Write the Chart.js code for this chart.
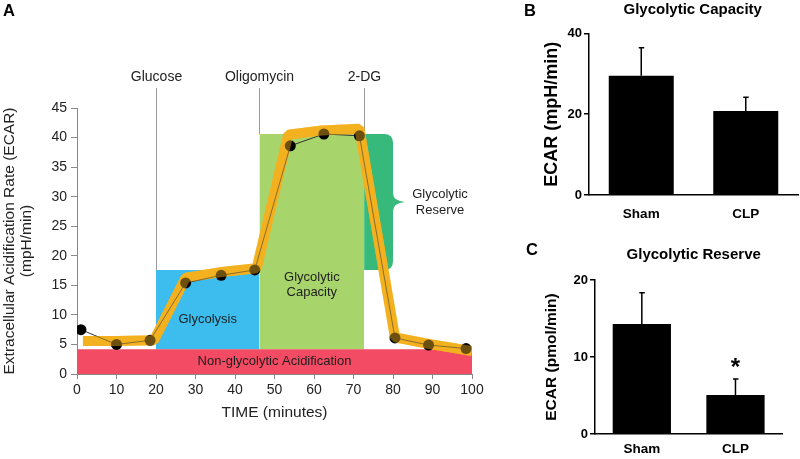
<!DOCTYPE html>
<html><head><meta charset="utf-8">
<script src="https://cdn.jsdelivr.net/npm/chart.js@4.4.1/dist/chart.umd.min.js"></script>
<style>
html,body{margin:0;padding:0;background:#fff;width:800px;height:459px;overflow:hidden;font-family:"Liberation Sans",Arial,sans-serif;}
.wrap{position:absolute;}
.lbl{position:absolute;font-weight:bold;font-size:16.5px;line-height:16px;color:#000;}
</style></head><body>
<div class="wrap" style="left:0;top:0;width:520px;height:459px"><canvas id="cA"></canvas></div>
<div class="wrap" style="left:520px;top:0;width:280px;height:229px"><canvas id="cB"></canvas></div>
<div class="wrap" style="left:520px;top:229px;width:280px;height:230px"><canvas id="cC"></canvas></div>
<div class="lbl" style="left:3px;top:1.5px">A</div>
<div class="lbl" style="left:524px;top:1.5px">B</div>
<div class="lbl" style="left:526px;top:241px">C</div>
<script>
// ---------- Panel A data ----------
const timeMin = [1, 10, 18.5, 27.5, 36.5, 45, 54, 62.5, 71.5, 80.5, 89, 98.5];
const ecar    = [7.5, 5.0, 5.7, 15.4, 16.7, 17.6, 38.6, 40.6, 40.3, 6.1, 4.9, 4.3];
const highlightTime = [1.5, 10, 19.5, 27.5, 36, 45.5, 53.5, 62, 71.5, 80.5, 89, 100];
const highlightEcar = [5.6, 5.6, 5.7, 16.3, 17.2, 17.9, 40.5, 41.2, 41.5, 6.2, 5.1, 3.9];
const injectionNames = ['Glucose', 'Oligomycin', '2-DG'];
const injectionTime  = [20, 46.2, 72.7];
const regionNames = ['Non-glycolytic Acidification', 'Glycolysis', 'Glycolytic Capacity', 'Glycolytic Reserve'];
const regionStart = [0, 20, 46.2, 72.7];
const regionEnd   = [100, 46.2, 72.7, 80];
const regionLow   = [0, 4.2, 4.2, 17.6];
const regionHigh  = [4.2, 17.6, 40.6, 40.6];
const xTitleA = 'TIME (minutes)';
const yTitleA = ['Extracellular Acidification Rate (ECAR)', '(mpH/min)'];

// ---------- Panels B / C data ----------
const groups = ['Sham', 'CLP'];
const capacityMean = [29.5, 20.8];
const capacityErr  = [6.9, 3.4];
const reserveMean  = [14.3, 5.05];
const reserveErr   = [4.05, 2.1];
const reserveSignif = ['', '*'];

const FONT = '"Liberation Sans", Arial, sans-serif';
Chart.defaults.font.family = FONT;
Chart.defaults.animation = false;
Chart.defaults.events = [];
Chart.defaults.plugins.legend.display = false;
Chart.defaults.plugins.tooltip.enabled = false;

const regionColors = ['#F24B63', '#3CBDEE', '#A8D46C', '#36B97A'];
const orange = 'rgb(245,177,32)';

function boxDataset(i) {
  return {
    type: 'line',
    data: [{x: regionStart[i], y: regionHigh[i]}, {x: regionEnd[i], y: regionHigh[i]}],
    fill: {value: regionLow[i]},
    backgroundColor: regionColors[i],
    borderColor: 'rgba(0,0,0,0)',
    borderWidth: 0,
    pointRadius: 0,
    order: 10
  };
}
const pts = (xs, ys) => xs.map((x, i) => ({x, y: ys[i]}));

const panelAPlugin = {
  id: 'panelA',
  beforeDatasetsDraw(chart) {
    const {ctx, scales: {x, y}, chartArea} = chart;
    ctx.save();
    ctx.strokeStyle = '#9a9a9a';
    ctx.lineWidth = 1;
    ctx.fillStyle = '#222';
    ctx.font = '14px ' + FONT;
    ctx.textAlign = 'center';
    ctx.textBaseline = 'middle';
    injectionTime.forEach((t, i) => {
      const px = Math.round(x.getPixelForValue(t)) + 0.5;
      ctx.beginPath();
      ctx.moveTo(px, chartArea.top - 20);
      ctx.lineTo(px, y.getPixelForValue(regionHigh[i + 1]));
      ctx.stroke();
      ctx.fillText(injectionNames[i], px, chartArea.top - 31);
    });
    const x0 = x.getPixelForValue(regionStart[3]), x1 = x.getPixelForValue(regionEnd[3]);
    const y0 = y.getPixelForValue(regionHigh[3]), y1 = y.getPixelForValue(regionLow[3]);
    const ym = (y0 + y1) / 2, r = 9;
    ctx.fillStyle = regionColors[3];
    ctx.beginPath();
    ctx.moveTo(x0, y0);
    ctx.lineTo(x1 - r, y0);
    ctx.quadraticCurveTo(x1, y0, x1, y0 + r);
    ctx.lineTo(x1, ym - 9);
    ctx.quadraticCurveTo(x1, ym - 1, x1 + 12, ym);
    ctx.quadraticCurveTo(x1, ym + 1, x1, ym + 9);
    ctx.lineTo(x1, y1 - r);
    ctx.quadraticCurveTo(x1, y1, x1 - r, y1);
    ctx.lineTo(x0, y1);
    ctx.closePath();
    ctx.fill();
    ctx.restore();
  },
  afterDatasetsDraw(chart) {
    const {ctx, scales: {x, y}} = chart;
    ctx.save();
    ctx.fillStyle = '#1e1e1e';
    ctx.font = '13px ' + FONT;
    ctx.textAlign = 'center';
    ctx.textBaseline = 'middle';
    const cx = i => x.getPixelForValue((regionStart[i] + regionEnd[i]) / 2);
    const cy = i => y.getPixelForValue((regionLow[i] + regionHigh[i]) / 2);
    ctx.fillText(regionNames[0], cx(0), cy(0));
    ctx.fillText(regionNames[1], cx(1), cy(1) + 10);
    const cap = regionNames[2].split(' ');
    ctx.fillText(cap[0], cx(2), cy(2) + 36);
    ctx.fillText(cap[1], cx(2), cy(2) + 51);
    const res = regionNames[3].split(' ');
    const rx = x.getPixelForValue(regionEnd[3]) + 47;
    ctx.fillText(res[0], rx, cy(3) - 8);
    ctx.fillText(res[1], rx, cy(3) + 8);
    ctx.restore();
  }
};

new Chart(document.getElementById('cA'), {
  type: 'line',
  data: {
    datasets: [
      boxDataset(0), boxDataset(1), boxDataset(2),
      {data: pts(highlightTime, highlightEcar), borderColor: orange, borderWidth: 10, pointRadius: 0,
       borderJoinStyle: 'bevel', fill: false, order: 3},
      {data: pts(timeMin, ecar), borderColor: '#333', borderWidth: 1, pointRadius: 5.5,
       pointBackgroundColor: '#000', pointBorderWidth: 0, fill: false, order: 2},
      {data: pts(highlightTime, highlightEcar), borderColor: 'rgba(245,177,32,0.45)', borderWidth: 10, pointRadius: 0,
       borderJoinStyle: 'bevel', fill: false, order: 1}
    ]
  },
  options: {
    responsive: true, maintainAspectRatio: false,
    layout: {padding: {top: 108, right: 48, left: 0, bottom: 0}},
    scales: {
      x: {type: 'linear', min: 0, max: 100,
          ticks: {stepSize: 10, font: {size: 14}, color: '#222', padding: 3},
          grid: {drawOnChartArea: false, tickLength: 5, color: '#888'},
          border: {color: '#888'},
          title: {display: true, text: xTitleA, font: {size: 15.5}, color: '#222', padding: {top: 0, bottom: 36.7}},
          afterFit(s) { s.height = 85; }},
      y: {min: 0, max: 45,
          ticks: {stepSize: 5, font: {size: 14}, color: '#222', padding: 4},
          grid: {drawOnChartArea: false, tickLength: 6, color: '#888'},
          border: {color: '#888'},
          title: {display: true, text: yTitleA, font: {size: 15.5, lineHeight: 1.1}, color: '#222', padding: {top: 1, bottom: 0}},
          afterFit(s) { s.width = 77; }}
    }
  },
  plugins: [panelAPlugin]
});

// ---------- bar panels ----------
function errorPlugin(errs, title, titleX, titleY, marks) {
  return {
    id: 'err',
    afterDatasetsDraw(chart) {
      const {ctx, scales: {y}} = chart;
      const meta = chart.getDatasetMeta(0);
      const vals = chart.data.datasets[0].data;
      ctx.save();
      ctx.strokeStyle = '#000';
      ctx.lineWidth = 1.5;
      meta.data.forEach((el, i) => {
        const top = y.getPixelForValue(vals[i] + errs[i]);
        ctx.beginPath();
        ctx.moveTo(el.x, el.y);
        ctx.lineTo(el.x, top);
        ctx.moveTo(el.x - 2.5, top);
        ctx.lineTo(el.x + 3, top);
        ctx.stroke();
        if (marks && marks[i]) {
          ctx.fillStyle = '#000';
          ctx.font = 'bold 24px ' + FONT;
          ctx.textAlign = 'center';
          ctx.textBaseline = 'middle';
          ctx.fillText(marks[i], el.x, top - 11);
        }
      });
      ctx.fillStyle = '#000';
      ctx.font = 'bold 15px ' + FONT;
      ctx.textAlign = 'center';
      ctx.textBaseline = 'middle';
      ctx.fillText(title, titleX, titleY);
      ctx.restore();
    }
  };
}

function barChart(id, values, errs, yMax, step, yTitle, yTitleSize, yTitlePad, axisW, axisH, padTop, padRight, xPad, title, tx, ty, marks) {
  new Chart(document.getElementById(id), {
    type: 'bar',
    data: {labels: groups, datasets: [{data: values, backgroundColor: '#000', categoryPercentage: 1, barPercentage: 0.622}]},
    options: {
      responsive: true, maintainAspectRatio: false,
      layout: {padding: {top: padTop, right: padRight, left: 0, bottom: 0}},
      scales: {
        x: {grid: {display: false, drawTicks: false}, border: {display: true, color: '#000', width: 1.5},
            ticks: {font: {size: 13.5, weight: 'bold'}, color: '#000', padding: xPad},
            afterFit(s) { s.height = axisH; }},
        y: {min: 0, max: yMax,
            ticks: {stepSize: step, font: {size: 13, weight: 'bold'}, color: '#000', padding: 2},
            grid: {drawOnChartArea: false, tickLength: 5, color: '#000', lineWidth: 1.5},
            border: {color: '#000', width: 1.5},
            title: {display: true, text: yTitle, font: {size: yTitleSize, weight: 'bold'}, color: '#000', padding: {top: yTitlePad, bottom: 0}},
            afterFit(s) { s.width = axisW; }}
      }
    },
    plugins: [errorPlugin(errs, title, tx, ty, marks)]
  });
}

barChart('cB', capacityMean, capacityErr, 40, 20, 'ECAR (mpH/min)', 18, 21.6, 69, 34, 33.3, 2, 11,
         'Glycolytic Capacity', 172.7, 10, null);
barChart('cC', reserveMean, reserveErr, 20, 10, 'ECAR (pmol/min)', 15.5, 22.7, 75, 25, 51, 17.7, 7,
         'Glycolytic Reserve', 173.7, 26, reserveSignif);
</script>
</body></html>
